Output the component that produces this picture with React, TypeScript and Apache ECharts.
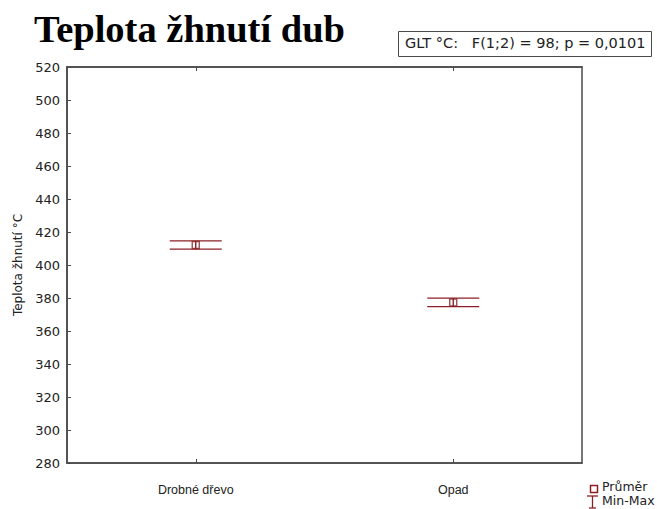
import React, { useEffect, useRef } from "react";
import * as echarts from "echarts";

const categories = ["Drobné dřevo", "Opad"];
const means = [412.1, 377.3];
const mins = [409.6, 374.8];
const maxs = [414.6, 379.9];
const yTicks = { min: 280, max: 520, interval: 20 };
const titleText = "Teplota žhnutí dub";
const statText = "GLT °C:   F(1;2) = 98; p = 0,0101";
const yName = "Teplota žhnutí °C";
const legendNames = ["Průměr", "Min-Max"];

const RED = "#8b1f24";
const FRAME = "#4a4a4a";
const SANS = "'DejaVu Sans', Verdana, sans-serif";
const ARIAL = "'Liberation Sans', Arial, sans-serif";

export default function App() {
  const ref = useRef<HTMLDivElement>(null);
  useEffect(() => {
    document.body.style.margin = "0";
    const chart = echarts.init(ref.current!, null, { renderer: "svg" });
    const option: any = {
      animation: false,
      backgroundColor: "#fff",
      title: {
        text: titleText,
        left: 34,
        top: 9,
        padding: 0,
        textStyle: {
          fontFamily: "'Liberation Serif', 'Times New Roman', serif",
          fontWeight: "bold",
          fontSize: 38.5,
          color: "#000",
        },
      },
      grid: {
        left: 67,
        right: 75,
        top: 67,
        bottom: 46,
        show: true,
        borderColor: FRAME,
        borderWidth: 1.5,
        backgroundColor: "#fff",
        outerBoundsMode: "none",
      },
      xAxis: [
        {
          type: "category",
          data: categories,
          position: "bottom",
          axisLine: { show: true, lineStyle: { color: FRAME, width: 1.5 } },
          axisTick: { show: true, inside: true, alignWithLabel: true, length: 4, lineStyle: { color: FRAME } },
          axisLabel: { margin: 20, fontSize: 12.5, fontFamily: ARIAL, color: "#222" },
          splitLine: { show: false },
        },
        {
          type: "category",
          data: categories,
          position: "top",
          axisLine: { show: true, lineStyle: { color: FRAME, width: 1.5 } },
          axisTick: { show: true, inside: true, alignWithLabel: true, length: 4, lineStyle: { color: FRAME } },
          axisLabel: { show: false },
          splitLine: { show: false },
        },
      ],
      yAxis: {
        type: "value",
        min: yTicks.min,
        max: yTicks.max,
        interval: yTicks.interval,
        name: yName,
        nameLocation: "middle",
        nameGap: 41,
        nameTextStyle: { fontSize: 12, fontFamily: SANS, color: "#222" },
        axisLine: { show: true, lineStyle: { color: FRAME, width: 1.5 } },
        axisTick: { show: true, inside: true, length: 4, lineStyle: { color: FRAME } },
        axisLabel: { margin: 7, fontSize: 13, fontFamily: SANS, color: "#222" },
        splitLine: { show: false },
      },
      series: [
        {
          name: legendNames[1],
          type: "custom",
          xAxisIndex: 0,
          data: categories.map((_, i) => [i, mins[i], maxs[i]]),
          encode: { x: 0, y: [1, 2] },
          renderItem: (params: any, api: any) => {
            const i = api.value(0);
            const lo = api.coord([i, api.value(1)]);
            const hi = api.coord([i, api.value(2)]);
            const hw = 26;
            const st = { stroke: RED, lineWidth: 1.4 };
            return {
              type: "group",
              children: [
                { type: "line", shape: { x1: lo[0] - hw, y1: lo[1], x2: lo[0] + hw, y2: lo[1] }, style: st },
                { type: "line", shape: { x1: hi[0] - hw, y1: hi[1], x2: hi[0] + hw, y2: hi[1] }, style: st },
                { type: "line", shape: { x1: lo[0], y1: lo[1], x2: hi[0], y2: hi[1] }, style: st },
              ],
            };
          },
        },
        {
          name: legendNames[0],
          type: "scatter",
          xAxisIndex: 0,
          data: categories.map((_, i) => [i, means[i]]),
          symbol: "rect",
          symbolSize: 7,
          itemStyle: { color: "rgba(255,255,255,0)", borderColor: RED, borderWidth: 1.4 },
          z: 3,
        },
      ],
      graphic: [
        {
          type: "rect",
          left: 398,
          top: 31,
          shape: { width: 253, height: 25 },
          style: { fill: "#fff", stroke: FRAME, lineWidth: 1 },
        },
        {
          type: "text",
          left: 405,
          top: 35.5,
          style: { text: statText, font: `14.5px ${SANS}`, fill: "#222" },
        },
        {
          type: "rect",
          left: 588,
          top: 483,
          shape: { width: 7, height: 7 },
          style: { fill: "none", stroke: RED, lineWidth: 1.5 },
        },
        {
          type: "text",
          left: 602,
          top: 480,
          style: { text: legendNames[0], font: `12.5px ${SANS}`, fill: "#222" },
        },
        {
          type: "polyline",
          shape: { points: [[587, 496], [598, 496]] },
          style: { stroke: RED, lineWidth: 1.3 },
        },
        {
          type: "polyline",
          shape: { points: [[592.5, 496], [592.5, 508]] },
          style: { stroke: RED, lineWidth: 1.3 },
        },
        {
          type: "polyline",
          shape: { points: [[589, 508], [596, 508]] },
          style: { stroke: RED, lineWidth: 1.3 },
        },
        {
          type: "text",
          left: 602,
          top: 494,
          style: { text: legendNames[1], font: `12.5px ${SANS}`, fill: "#222" },
        },
      ],
    };
    chart.setOption(option);
    return () => chart.dispose();
  }, []);
  return <div ref={ref} style={{ width: 657, height: 509 }} />;
}
